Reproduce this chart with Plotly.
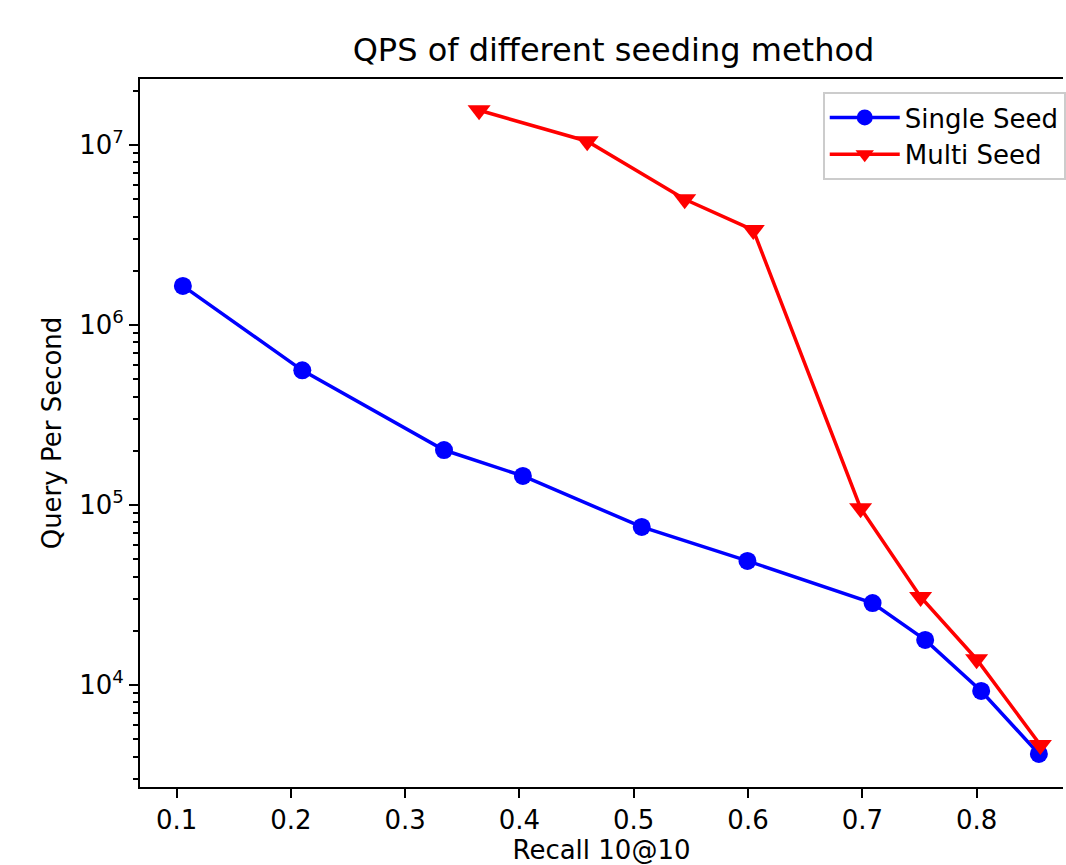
import plotly.graph_objects as go

# Data
single_recall = [0.1055, 0.210, 0.334, 0.403, 0.507, 0.5995, 0.709, 0.755, 0.804, 0.8545]
single_qps = [1.65e6, 5.6e5, 2.02e5, 1.45e5, 7.55e4, 4.89e4, 2.85e4, 1.78e4, 9.26e3, 4.14e3]

multi_recall = [0.3647, 0.4593, 0.5446, 0.6046, 0.6985, 0.751, 0.800, 0.8558]
multi_qps = [1.56e7, 1.05e7, 5.0e6, 3.37e6, 9.6e4, 3.08e4, 1.39e4, 4.64e3]

x_ticks = [0.1, 0.2, 0.3, 0.4, 0.5, 0.6, 0.7, 0.8]
y_ticks = [1e4, 1e5, 1e6, 1e7]
y_tick_labels = ["10<sup>4</sup>", "10<sup>5</sup>", "10<sup>6</sup>", "10<sup>7</sup>"]
y_minor = [m * 10 ** k for k in range(3, 8) for m in range(2, 10)]

FONT = "DejaVu Sans"

fig = go.Figure()
fig.add_trace(go.Scatter(
    x=single_recall, y=single_qps, mode="lines+markers", name="Single Seed",
    line=dict(color="#0000ff", width=3.5),
    marker=dict(symbol="circle", size=18, color="#0000ff"),
))
fig.add_trace(go.Scatter(
    x=multi_recall, y=multi_qps, mode="lines+markers", name="Multi Seed",
    line=dict(color="#ff0000", width=3.5),
    marker=dict(symbol="triangle-down", size=20, color="#ff0000"),
))

fig.update_layout(
    width=1066, height=865,
    margin=dict(l=140, r=0, t=79, b=78),
    paper_bgcolor="white", plot_bgcolor="white",
    font=dict(family=FONT, size=26, color="black"),
    title=dict(text="QPS of different seeding method", x=0.513, xref="paper", xanchor="center",
               y=1 - 50 / 865, yref="container", yanchor="middle",
               font=dict(family=FONT, size=32, color="black")),
    showlegend=True,
    legend=dict(x=0.7397, y=0.9816, xanchor="left", yanchor="top",
                bgcolor="rgba(255,255,255,0.8)", bordercolor="#cccccc", borderwidth=2,
                font=dict(family=FONT, size=26, color="black"),
                itemwidth=70, tracegroupgap=0),
)

fig.update_xaxes(
    range=[0.068, 0.8756], tickvals=x_ticks, ticktext=[f"{v:.1f}" for v in x_ticks],
    showgrid=False, zeroline=False,
    showline=True, linecolor="black", linewidth=2, mirror=True,
    ticks="outside", ticklen=9, tickwidth=2, tickcolor="black",
    tickfont=dict(family=FONT, size=26, color="black"),
    title=dict(text="Recall 10@10", standoff=8, font=dict(family=FONT, size=26, color="black")),
    automargin=False,
)
fig.update_yaxes(
    type="log", range=[3.433, 7.367], tickvals=y_ticks, ticktext=y_tick_labels,
    showgrid=False, zeroline=False,
    showline=True, linecolor="black", linewidth=2, mirror=False,
    ticks="outside", ticklen=9, tickwidth=2, tickcolor="black",
    tickfont=dict(family=FONT, size=26, color="black"),
    minor=dict(tickvals=y_minor, ticks="outside", ticklen=5, tickwidth=2, tickcolor="black", showgrid=False),
    title=dict(text="Query Per Second", standoff=10, font=dict(family=FONT, size=26, color="black")),
    automargin=False,
)

fig.write_html("out.html", config={"displayModeBar": False},
               post_script="document.body.style.margin='0';document.body.style.overflow='hidden';")
